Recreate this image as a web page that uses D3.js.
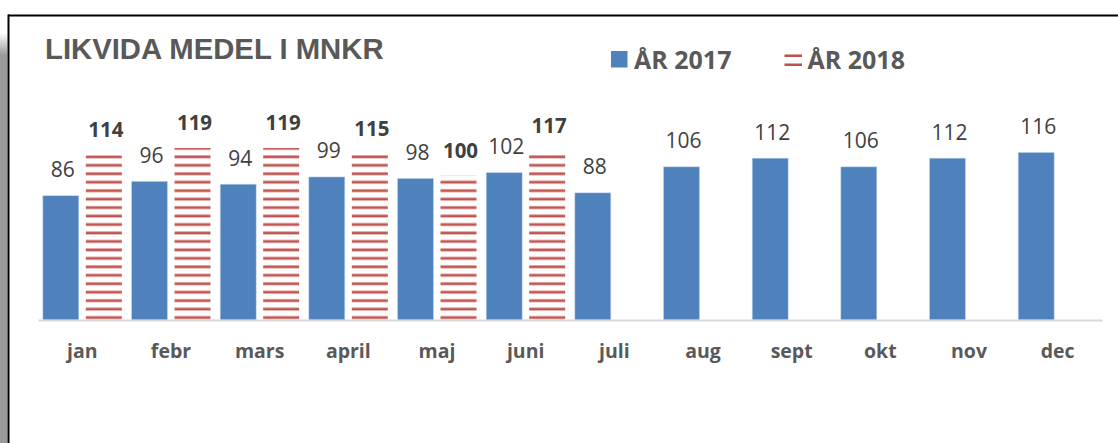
<!DOCTYPE html>
<html>
<head>
<meta charset="utf-8">
<script src="https://cdn.jsdelivr.net/npm/d3@7"></script>
<style>
  html, body { margin: 0; padding: 0; background: #fff; }
  svg { display: block; }
</style>
</head>
<body>
<svg id="chart" width="1118" height="443"></svg>
<script>
const title = "LIKVIDA MEDEL I MNKR";
const months = ["jan","febr","mars","april","maj","juni","juli","aug","sept","okt","nov","dec"];
const seriesNames = ["ÅR 2017","ÅR 2018"];
const values2017 = [86, 96, 94, 99, 98, 102, 88, 106, 112, 106, 112, 116];
const values2018 = [114, 119, 119, 115, 100, 117];

const svg = d3.select("#chart");
const W = 1118, H = 443;
const blue = "#4f81bd", red = "#c0504d", textGrey = "#595959", labelGrey = "#404040";

// defs: stripe pattern and frame shadow gradient
const defs = svg.append("defs");
const pat = defs.append("pattern")
  .attr("id", "stripes")
  .attr("patternUnits", "userSpaceOnUse")
  .attr("x", 0).attr("y", 155)
  .attr("width", 8).attr("height", 8.46);
pat.append("rect").attr("x", 0).attr("y", 0).attr("width", 8).attr("height", 1).attr("fill", "#dfa3a1");
pat.append("rect").attr("x", 0).attr("y", 1).attr("width", 8).attr("height", 2.2).attr("fill", red);

const grad = defs.append("linearGradient").attr("id", "shadow")
  .attr("x1", 0).attr("y1", 0).attr("x2", 0).attr("y2", 1);
grad.append("stop").attr("offset", "0").attr("stop-color", "#ffffff");
grad.append("stop").attr("offset", "1").attr("stop-color", "#9a9a9a");

svg.append("rect").attr("width", W).attr("height", H).attr("fill", "#fff");

// frame shadow and borders
svg.append("rect").attr("x", 0).attr("y", 33).attr("width", 7.5).attr("height", 22).attr("fill", "url(#shadow)");
svg.append("rect").attr("x", 0).attr("y", 55).attr("width", 7.5).attr("height", H - 55).attr("fill", "#9a9a9a");
svg.append("line").attr("x1", 8).attr("x2", W).attr("y1", 15.5).attr("y2", 15.5).attr("stroke", "#000").attr("stroke-width", 2);
svg.append("line").attr("x1", 8.5).attr("x2", 8.5).attr("y1", 14.5).attr("y2", H).attr("stroke", "#000").attr("stroke-width", 2);

// title
svg.append("text").attr("x", 45).attr("y", 59)
  .attr("font-family", "Liberation Sans, Arial, sans-serif")
  .attr("font-weight", "bold").attr("font-size", 29.3)
  .attr("fill", textGrey).text(title);

// scales
const baseY = 320;
const x0 = d3.scaleBand().domain(months).range([38, 1102]).paddingInner(0).paddingOuter(0);
const x1 = d3.scaleBand().domain(seriesNames).range([0, x0.bandwidth()]).paddingInner(0.163).paddingOuter(0.1125);
const y = d3.scaleLinear().domain([0, 140]).range([baseY, baseY - 140 * 1.445]);

const data2017 = months.map((m, i) => ({ m, v: values2017[i] }));
const data2018 = values2018.map((v, i) => ({ m: months[i], v }));

// bars 2017
svg.append("g").selectAll("rect").data(data2017).join("rect")
  .attr("x", d => x0(d.m) + x1(seriesNames[0]))
  .attr("y", d => y(d.v))
  .attr("width", x1.bandwidth())
  .attr("height", d => y(0) - y(d.v))
  .attr("fill", blue)
  .attr("stroke", "#c6d6ea").attr("stroke-width", 0.6);

// bars 2018 (striped)
svg.append("g").selectAll("rect").data(data2018).join("rect")
  .attr("x", d => x0(d.m) + x1(seriesNames[1]))
  .attr("y", d => y(d.v))
  .attr("width", x1.bandwidth())
  .attr("height", d => y(0) - y(d.v))
  .attr("fill", "url(#stripes)");

// value labels
svg.append("g").selectAll("text").data(data2017).join("text")
  .attr("x", d => x0(d.m) + x1(seriesNames[0]) + x1.bandwidth() / 2 + 2)
  .attr("y", d => y(d.v) - 18.5)
  .attr("text-anchor", "middle")
  .attr("font-family", "Open Sans, sans-serif").attr("font-size", 21)
  .attr("fill", labelGrey).text(d => d.v);

svg.append("g").selectAll("text").data(data2018).join("text")
  .attr("x", d => x0(d.m) + x1(seriesNames[1]) + x1.bandwidth() / 2 + 2)
  .attr("y", d => y(d.v) - 18)
  .attr("text-anchor", "middle")
  .attr("font-family", "Open Sans, sans-serif").attr("font-weight", "bold").attr("font-size", 20.5)
  .attr("fill", labelGrey).text(d => d.v);

// x axis
const axis = svg.append("g").attr("transform", `translate(0,${baseY})`)
  .call(d3.axisBottom(x0).tickSize(0).tickPadding(24).tickSizeOuter(0));
axis.select(".domain").attr("stroke", "#d9d9d9").attr("stroke-width", 2);
axis.selectAll("text")
  .attr("font-family", "Open Sans, sans-serif").attr("font-weight", "bold").attr("font-size", 19.5)
  .attr("fill", textGrey);

// legend
const legend = svg.append("g");
legend.append("rect").attr("x", 611).attr("y", 51).attr("width", 16.5).attr("height", 16.5).attr("fill", blue);
legend.append("text").attr("x", 634).attr("y", 68.5)
  .attr("font-family", "Open Sans, sans-serif").attr("font-weight", "bold").attr("font-size", 25)
  .attr("fill", textGrey).text(seriesNames[0]);
legend.append("rect").attr("x", 784.5).attr("y", 55).attr("width", 17.5).attr("height", 2).attr("fill", red);
legend.append("rect").attr("x", 784.5).attr("y", 54).attr("width", 17.5).attr("height", 1).attr("fill", "#dfa3a1");
legend.append("rect").attr("x", 784.5).attr("y", 64).attr("width", 17.5).attr("height", 2).attr("fill", red);
legend.append("rect").attr("x", 784.5).attr("y", 63).attr("width", 17.5).attr("height", 1).attr("fill", "#dfa3a1");
legend.append("text").attr("x", 807.5).attr("y", 68.5)
  .attr("font-family", "Open Sans, sans-serif").attr("font-weight", "bold").attr("font-size", 25)
  .attr("fill", textGrey).text(seriesNames[1]);
</script>
</body>
</html>
